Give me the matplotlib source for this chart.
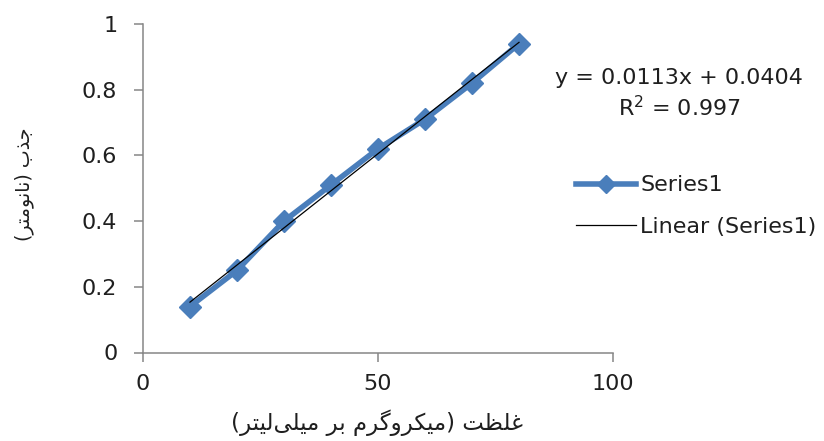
"""
Calibration curve: absorbance against concentration, with linear trendline
"""
import numpy as np
import matplotlib
matplotlib.use("Agg")
from matplotlib import pyplot as plt
from matplotlib.lines import Line2D

# data
conc = [10, 20, 30, 40, 50, 60, 70, 80]
absorb = [0.14, 0.25, 0.40, 0.51, 0.62, 0.71, 0.82, 0.94]
x_ticks = [0, 50, 100]
y_ticks = [0, 0.2, 0.4, 0.6, 0.8, 1.0]
y_tick_labels = ["0", "0.2", "0.4", "0.6", "0.8", "1"]
series_label = "Series1"
trend_label = "Linear (Series1)"

# Persian axis titles, pre-shaped (presentation forms, visual order)
# "جذب (نانومتر)"
ylabel_fa = ("(" + "\uFEAE\uFE98\uFEE3\uFEEE\uFEE7\uFE8E\uFEE7" + ")"
             + " " + "\uFE8F\uFEAC\uFE9F")
# "غلظت (میکروگرم بر میلی‌لیتر)"
xlabel_fa = ("(" + "\uFEAE\uFE98\uFEF4\uFEDF" + "\uFEF0\uFEE0\uFEF4\uFEE3"
             + " " + "\uFEAE\uFE91"
             + " " + "\uFEE1\uFEAE\uFB94\uFEED\uFEAE\uFB91\uFEF4\uFEE3" + ")"
             + " " + "\uFE96\uFEC8\uFEE0\uFECF")

blue = "#4A7EBB"
grey = "#868686"
text_col = "#1f1f1f"
plt.rcParams['font.family'] = ['DejaVu Sans']

fig = plt.figure(figsize=(8.24, 4.41), dpi=100)
ax = fig.add_axes([143 / 824, 88.5 / 441, 470 / 824, 328.5 / 441])

ax.plot(conc, absorb, color=blue, lw=4, marker='D', ms=11,
        mfc=blue, mec=blue, zorder=2)

slope, intercept = np.polyfit(conc, absorb, 1)
xs = np.array([conc[0], conc[-1]])
ax.plot(xs, slope * xs + intercept, color='black', lw=0.9, zorder=3)
r2 = np.corrcoef(conc, absorb)[0, 1] ** 2

ax.set_xlim(0, 100)
ax.set_ylim(0, 1)
ax.set_xticks(x_ticks)
ax.set_yticks(y_ticks)
ax.set_yticklabels(y_tick_labels)
for s in ['top', 'right']:
    ax.spines[s].set_visible(False)
for s in ['left', 'bottom']:
    ax.spines[s].set_color(grey)
    ax.spines[s].set_linewidth(1.1)
ax.tick_params(axis='both', direction='out', length=6.5, width=1.1,
               color=grey, labelsize=16, labelcolor=text_col)
ax.tick_params(axis='y', pad=12)
ax.tick_params(axis='x', pad=9)

fig.text(377 / 824, 1 - 423 / 441, xlabel_fa, ha='center', va='center',
         fontsize=16.5, color=text_col)
fig.text(24 / 824, 1 - 184 / 441, ylabel_fa, ha='center', va='center',
         rotation=90, fontsize=13.7, color=text_col)

fig.text(679 / 824, 1 - 78 / 441,
         "y = {:.4f}x + {:.4f}".format(slope, intercept),
         ha='center', va='center', fontsize=16, color=text_col)
fig.text(679 / 824, 1 - 108 / 441, "R$^2$ = {:.3f}".format(r2),
         ha='center', va='center', fontsize=16, color=text_col)

handles = [Line2D([], [], color=blue, lw=4, marker='D', ms=9),
           Line2D([], [], color='black', lw=0.9)]
fig.legend(handles, [series_label, trend_label], loc='center left',
           bbox_to_anchor=(556 / 824, 1 - 206 / 441), frameon=False,
           fontsize=16, handlelength=2.7, labelspacing=0.95,
           handletextpad=0.2, labelcolor=text_col)

fig.savefig("out.png", dpi=100, facecolor='white')
